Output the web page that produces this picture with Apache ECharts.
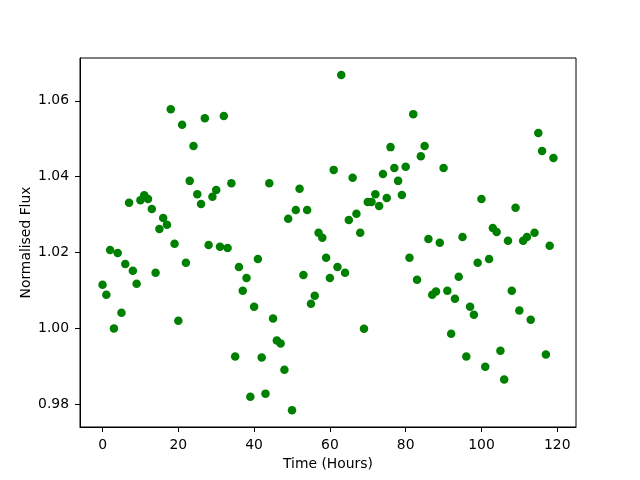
<!DOCTYPE html>
<html>
<head>
<meta charset="utf-8">
<script src="https://cdn.jsdelivr.net/npm/echarts@6/dist/echarts.min.js"></script>
<style>
  html, body { margin: 0; padding: 0; background: #fff; }
  #chart { width: 640px; height: 480px; }
</style>
</head>
<body>
<div id="chart"></div>
<script>
// time in hours, one reading per hour
var hours = [];
for (var h = 0; h < 120; h++) hours.push(h);

// normalised flux
var flux = [
  1.0115, 1.0089, 1.0207, 1.0000, 1.0199, 1.0041, 1.0170, 1.0331, 1.0152, 1.0118,
  1.0338, 1.0351, 1.0341, 1.0315, 1.0147, 1.0262, 1.0291, 1.0273, 1.0578, 1.0223,
  1.0020, 1.0537, 1.0173, 1.0389, 1.0481, 1.0354, 1.0328, 1.0554, 1.0220, 1.0347,
  1.0365, 1.0215, 1.0560, 1.0212, 1.0383, 0.9926, 1.0162, 1.0099, 1.0133, 0.9820,
  1.0057, 1.0183, 0.9923, 0.9828, 1.0383, 1.0026, 0.9968, 0.9960, 0.9891, 1.0289,
  0.9784, 1.0312, 1.0368, 1.0141, 1.0312, 1.0065, 1.0086, 1.0252, 1.0239, 1.0186,
  1.0133, 1.0418, 1.0162, 1.0668, 1.0147, 1.0286, 1.0397, 1.0302, 1.0252, 0.9999,
  1.0333, 1.0333, 1.0354, 1.0323, 1.0407, 1.0344, 1.0478, 1.0423, 1.0389, 1.0352,
  1.0426, 1.0186, 1.0565, 1.0128, 1.0454, 1.0481, 1.0236, 1.0089, 1.0097, 1.0226,
  1.0423, 1.0099, 0.9986, 1.0078, 1.0136, 1.0241, 0.9926, 1.0057, 1.0036, 1.0173,
  1.0341, 0.9899, 1.0183, 1.0265, 1.0254, 0.9941, 0.9865, 1.0231, 1.0099, 1.0318,
  1.0047, 1.0231, 1.0241, 1.0023, 1.0252, 1.0515, 1.0468, 0.9931, 1.0218, 1.0449
];

var xTicks = [0, 20, 40, 60, 80, 100, 120];
var yTicks = [0.98, 1.00, 1.02, 1.04, 1.06];

var points = [];
for (var i = 0; i < hours.length; i++) points.push([hours[i], flux[i]]);

var font = 'DejaVu Sans';
var chart = echarts.init(document.getElementById('chart'), null, { renderer: 'canvas' });
chart.setOption({
  animation: false,
  backgroundColor: '#fff',
  grid: {
    left: 80, right: 64, top: 58, bottom: 53,
    show: true, borderColor: '#000', borderWidth: 1, backgroundColor: 'transparent'
  },
  xAxis: {
    type: 'value',
    min: -5.95, max: 124.95,
    name: 'Time (Hours)',
    nameLocation: 'middle',
    nameGap: 29,
    nameTextStyle: { fontFamily: font, fontSize: 13.9, color: '#000' },
    axisLine: { show: true, onZero: false, lineStyle: { color: '#000', width: 1 } },
    axisTick: { show: true, inside: false, length: 5, customValues: xTicks, lineStyle: { color: '#000' } },
    axisLabel: { customValues: xTicks, margin: 11, fontFamily: font, fontSize: 13.9, color: '#000' },
    splitLine: { show: false }
  },
  yAxis: {
    type: 'value',
    min: 0.974, max: 1.0713,
    name: 'Normalised Flux',
    nameLocation: 'middle',
    nameGap: 47,
    nameMoveOverlap: false,
    nameTextStyle: { fontFamily: font, fontSize: 13.9, color: '#000' },
    axisLine: { show: true, onZero: false, lineStyle: { color: '#000', width: 1 } },
    axisTick: { show: true, inside: false, length: 5, customValues: yTicks, lineStyle: { color: '#000' } },
    axisLabel: {
      customValues: yTicks, margin: 11, fontFamily: font, fontSize: 13.9, color: '#000',
      formatter: function (v) { return v.toFixed(2); }
    },
    splitLine: { show: false }
  },
  series: [{
    type: 'scatter',
    data: points,
    symbol: 'circle',
    symbolSize: 8.5,
    itemStyle: { color: '#008000', opacity: 1 }
  }]
});
</script>
</body>
</html>
